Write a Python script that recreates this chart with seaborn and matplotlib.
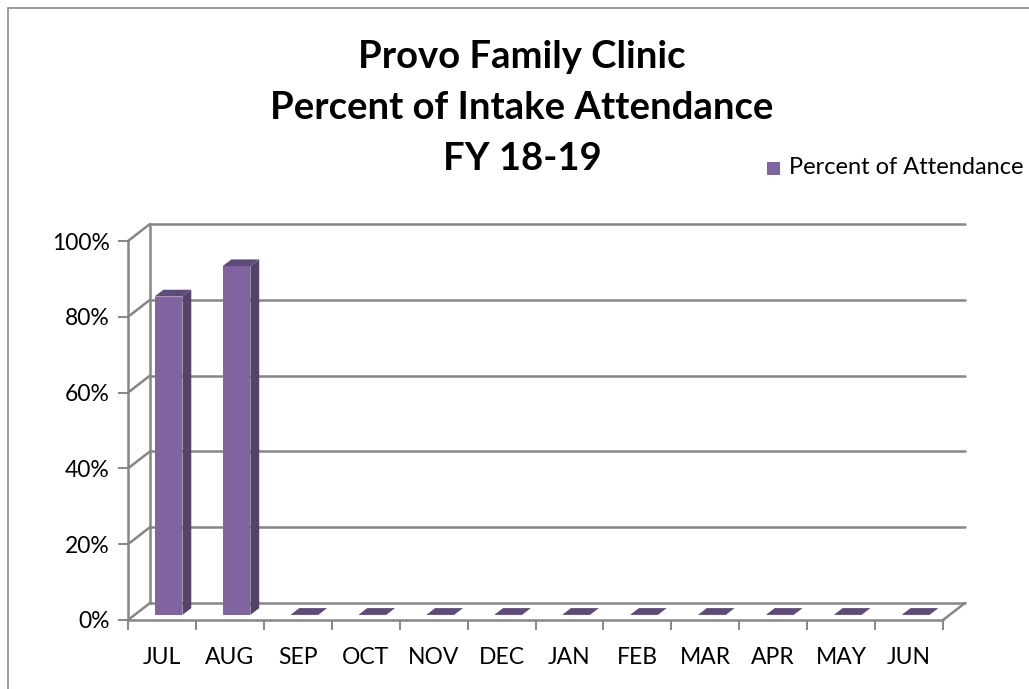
import pandas as pd
import seaborn as sns
import matplotlib.pyplot as plt
from matplotlib.patches import Polygon, Rectangle
from matplotlib.transforms import Affine2D

# data
months = ["JUL", "AUG", "SEP", "OCT", "NOV", "DEC",
          "JAN", "FEB", "MAR", "APR", "MAY", "JUN"]
attendance = [0.84, 0.92, 0, 0, 0, 0, 0, 0, 0, 0, 0, 0]
yticks = [0, 0.2, 0.4, 0.6, 0.8, 1.0]
ytick_labels = ["0%", "20%", "40%", "60%", "80%", "100%"]

df = pd.DataFrame({"month": months, "pct": attendance})

FRONT = "#8064A2"
SIDE = "#54426C"
TOP = "#5F4B7B"
GRID = "#868686"
FONT = "Lato"

sns.set_style("white")
plt.rcParams["font.family"] = [FONT, "DejaVu Sans"]
plt.rcParams["text.color"] = "black"
plt.rcParams["xtick.color"] = "black"
plt.rcParams["ytick.color"] = "black"

fig = plt.figure(figsize=(10.29, 6.89), dpi=100)
W, H = 1029, 689
ax = fig.add_axes([128 / W, (H - 620) / H, (943 - 128) / W, (620 - 241) / H])

sns.barplot(data=df, x="month", y="pct", color=FRONT, width=0.41,
            saturation=1, linewidth=0, ax=ax, zorder=3)
ax.set_xlim(-0.5, len(months) - 0.5)
ax.set_ylim(0, 1)

# depth of the fake 3D box, in data units
DX = 22 * len(months) / (943 - 128)
DY = 17 / (620 - 241)
x0, x1 = -0.5, len(months) - 0.5

# back wall gridlines + left connectors
for v in yticks:
    ax.plot([x0 + DX, x1 + DX], [v + DY, v + DY], color=GRID, lw=1.8,
            clip_on=False, zorder=1)
    ax.plot([x0, x0 + DX], [v, v + DY], color=GRID, lw=1.8,
            clip_on=False, zorder=1)
ax.plot([x0 + DX, x0 + DX], [DY, 1 + DY], color=GRID, lw=1.8,
        clip_on=False, zorder=1)
# front axis line, floor front edge, right floor edge
ax.plot([x0, x0], [0, 1], color=GRID, lw=1.8, clip_on=False, zorder=2)
ax.plot([x0, x1], [0, 0], color=GRID, lw=1.8, clip_on=False, zorder=2)
ax.plot([x1, x1 + DX], [0, DY], color=GRID, lw=1.8, clip_on=False, zorder=2)

# shift bars into the middle of the depth and add side/top faces
t0, t1 = 0.3, 0.7
shift = Affine2D().translate(t0 * DX, t0 * DY)
for p in ax.patches[:len(months)]:
    p.set_transform(shift + ax.transData)
    p.set_clip_on(False)
    bx, bw, bh = p.get_x() + t0 * DX, p.get_width(), p.get_height()
    by = t0 * DY
    ddx, ddy = (t1 - t0) * DX, (t1 - t0) * DY
    side = Polygon([(bx + bw, by), (bx + bw + ddx, by + ddy),
                    (bx + bw + ddx, by + bh + ddy), (bx + bw, by + bh)],
                   closed=True, facecolor=SIDE, edgecolor="none",
                   clip_on=False, zorder=3)
    top = Polygon([(bx, by + bh), (bx + bw, by + bh),
                   (bx + bw + ddx, by + bh + ddy), (bx + ddx, by + bh + ddy)],
                  closed=True, facecolor=TOP, edgecolor="none",
                  clip_on=False, zorder=4)
    ax.add_patch(side)
    ax.add_patch(top)

# ticks
ax.set_yticks(yticks)
ax.set_yticklabels(ytick_labels)
ax.set_xticks(range(len(months)))
ax.set_xticklabels(months)
ax.set_xticks([i - 0.5 for i in range(len(months) + 1)], minor=True)
ax.tick_params(axis="y", which="major", left=True, length=7, width=1.4,
               color=GRID, labelcolor="black", labelsize=16.5, pad=6)
ax.tick_params(axis="x", which="major", bottom=False, labelsize=16.5,
               labelcolor="black", pad=16)
ax.tick_params(axis="x", which="minor", bottom=True, length=7, width=1.4,
               color=GRID)
ax.set_xlabel("")
ax.set_ylabel("")
for s in ax.spines.values():
    s.set_visible(False)
ax.patch.set_alpha(0)

# title
fig.text(522 / W, 1 - 108 / H,
         "Provo Family Clinic\nPercent of Intake Attendance\nFY 18-19",
         ha="center", va="center", fontsize=27.5, fontweight="bold",
         linespacing=1.62, color="black", transform=fig.transFigure)

# legend
fig.patches.append(Rectangle((767 / W, 1 - 175 / H), 13 / W, 13 / H,
                             transform=fig.transFigure, facecolor=FRONT,
                             edgecolor="none"))
fig.text(789 / W, 1 - 168 / H, "Percent of Attendance", fontsize=17,
         va="center", ha="left", color="black")

# chart border
fig.patches.append(Rectangle((8 / W, -0.05), 1.1, 1 - 8 / H + 0.05,
                             transform=fig.transFigure, fill=False,
                             edgecolor="#8c8c8c", lw=1.2))

fig.savefig("out.png", dpi=100)
